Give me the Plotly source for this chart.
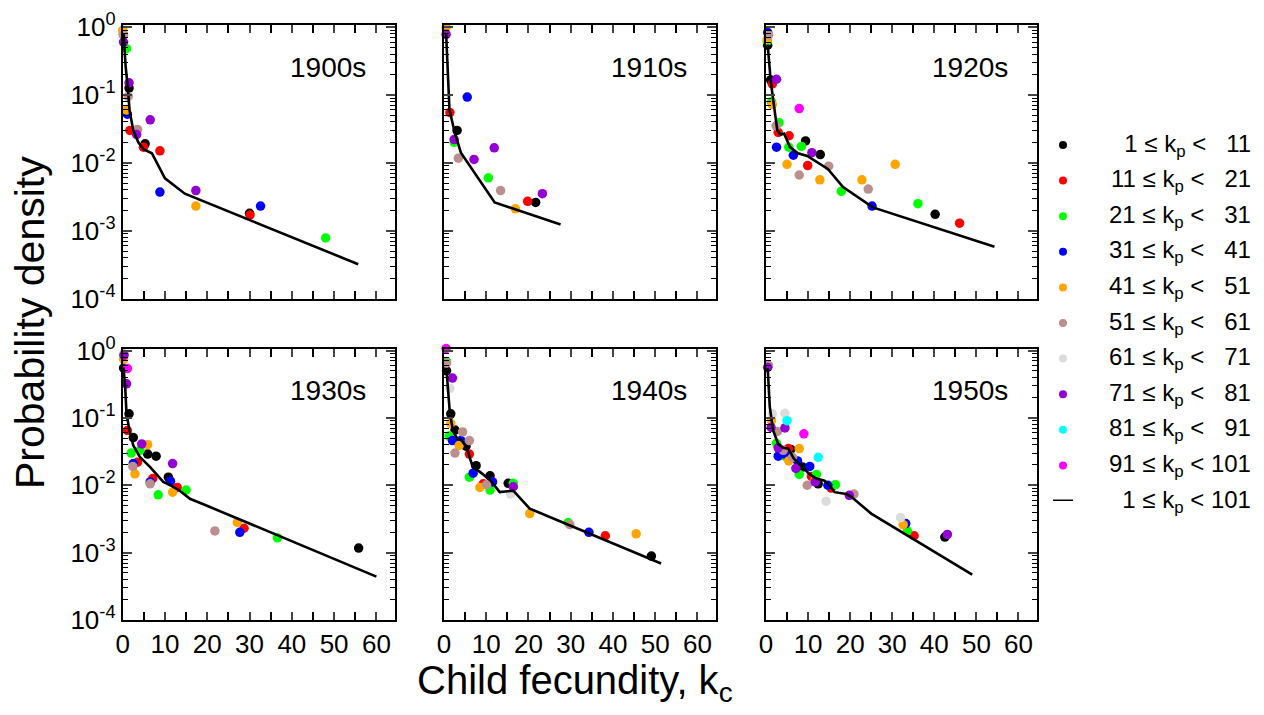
import plotly.graph_objects as go

# k_p group colours (xmgrace palette) and legend ranges
group_colors = ['#000000', '#ff0000', '#00ff00', '#0000ff', '#ffa500',
                '#bc8f8f', '#dcdcdc', '#9400d3', '#00ffff', '#ff00ff']
legend_lo = [1, 11, 21, 31, 41, 51, 61, 71, 81, 91]
legend_hi = [11, 21, 31, 41, 51, 61, 71, 81, 91, 101]

decades = ['1900s', '1910s', '1920s', '1930s', '1940s', '1950s']

# --- 1900s ---
pts_1900s_x = [0.0, 0.15, 0.2, 0.2, 0.9, 1.5, 1.5, 1.3, 0.9, 1.1, 6.5, 3.5, 1.7, 3.3, 5.3, 4.9,
               8.8, 8.8, 17.3, 17.3, 30.0, 30.1, 32.6, 48.0]
pts_1900s_y = [0.89, 0.78, 0.76, 0.60, 0.48, 0.151, 0.126, 0.095, 0.060, 0.052, 0.043, 0.031,
               0.030, 0.026, 0.019, 0.017, 0.015, 0.0037, 0.0039, 0.0023, 0.0018, 0.0017,
               0.0023, 0.00078]
pts_1900s_g = [4, 1, 5, 7, 2, 7, 0, 5, 4, 3, 7, 5, 1, 7, 0, 1, 1, 3, 7, 4, 0, 1, 3, 2]
line_1900s_x = [0.2, 0.7, 1.3, 1.6, 2.5, 3.7, 4.9, 6.9, 10, 14.7, 55.7]
line_1900s_y = [0.81, 0.26, 0.112, 0.060, 0.030, 0.020, 0.0158, 0.0138, 0.0059, 0.0035, 0.00032]

# --- 1910s ---
pts_1910s_x = [0.5, 0.5, 5.5, 1.4, 3.1, 2.4, 2.4, 11.9, 3.4, 7.1, 10.5, 13.4, 16.9, 19.8, 21.7, 23.3]
pts_1910s_y = [0.98, 0.78, 0.093, 0.055, 0.030, 0.022, 0.020, 0.0166, 0.0117, 0.0112, 0.0060,
               0.0039, 0.0021, 0.0027, 0.0026, 0.0035]
pts_1910s_g = [4, 7, 3, 1, 0, 7, 2, 7, 5, 7, 2, 5, 4, 1, 0, 7]
line_1910s_x = [0.5, 1.3, 2.6, 4, 12, 27.6]
line_1910s_y = [0.81, 0.060, 0.027, 0.0141, 0.0026, 0.00123]

# --- 1920s ---
pts_1920s_x = [0.4, 0.6, 0.3, 0.3, 0.4, 2.5, 1.1, 1.5, 1.3, 1.5, 7.9, 3.1, 2.4, 2.9, 5.5, 9.4,
               2.5, 5.4, 8.4, 6.5, 10.9, 12.9, 5.0, 9.9, 14.9, 7.9, 12.8, 22.8, 30.7, 17.9,
               24.3, 25.2, 36.1, 40.2, 46.0]
pts_1920s_y = [0.83, 0.76, 0.66, 0.62, 0.54, 0.170, 0.166, 0.145, 0.079, 0.072, 0.063, 0.039,
               0.035, 0.028, 0.025, 0.021, 0.017, 0.017, 0.0174, 0.0129, 0.0141, 0.0132,
               0.0095, 0.0091, 0.0089, 0.0066, 0.0056, 0.0056, 0.0095, 0.0038, 0.0041,
               0.0023, 0.0025, 0.00174, 0.00129]
pts_1920s_g = [3, 5, 4, 2, 0, 7, 0, 1, 2, 4, 9, 2, 5, 1, 1, 0, 3, 2, 2, 3, 7, 0, 4, 1, 5, 5,
               4, 4, 4, 2, 5, 3, 2, 0, 1]
line_1920s_x = [0.4, 1.1, 1.7, 2.7, 3.5, 4.3, 5.7, 7.6, 9.8, 14.7, 18.3, 25.4, 54.3]
line_1920s_y = [0.55, 0.166, 0.085, 0.030, 0.026, 0.027, 0.017, 0.0138, 0.0126, 0.0081,
                0.0044, 0.0022, 0.00058]

# --- 1930s ---
pts_1930s_x = [0.3, 0.3, 0.2, 1.1, 0.2, 0.9, 1.5, 1.1, 2.5, 4.5, 5.9, 4.1, 2.0, 5.9, 7.9, 3.5,
               2.5, 2.4, 11.8, 2.9, 10.8, 7.1, 6.5, 6.5, 11.3, 12.9, 15.0, 11.8, 8.4, 27.1,
               28.7, 27.7, 21.8, 36.6, 55.8]
pts_1930s_y = [0.89, 0.85, 0.74, 0.54, 0.55, 0.32, 0.115, 0.065, 0.051, 0.041, 0.040, 0.033,
               0.030, 0.029, 0.027, 0.022, 0.021, 0.019, 0.021, 0.0148, 0.0132, 0.0126,
               0.0112, 0.0105, 0.0115, 0.0093, 0.0085, 0.0079, 0.0072, 0.0028, 0.0023,
               0.0020, 0.0021, 0.00166, 0.00117]
pts_1930s_g = [5, 7, 4, 9, 0, 7, 0, 1, 0, 7, 4, 2, 2, 0, 0, 1, 3, 5, 7, 4, 0, 1, 3, 5, 3, 1,
               2, 4, 2, 4, 1, 3, 5, 2, 0]
line_1930s_x = [0.2, 0.6, 0.9, 1.6, 2.5, 4.1, 6.5, 9.6, 11.3, 13.5, 15.9, 19.8, 60]
line_1930s_y = [0.56, 0.28, 0.115, 0.065, 0.039, 0.026, 0.0186, 0.0112, 0.0100, 0.0083,
                0.0063, 0.0050, 0.00044]

# --- 1940s ---
pts_1940s_x = [0.5, 0.6, 0.6, 0.6, 2.0, 1.4, 1.6, 1.6, 2.6, 4.4, 1.2, 2.0, 6.0, 4.0, 3.6, 5.2,
               2.6, 6.0, 7.6, 6.9, 6.0, 10.9, 11.5, 9.3, 10.1, 8.5, 10.9, 15.2, 16.4, 16.4,
               15.8, 20.3, 29.4, 29.8, 34.3, 38.2, 45.5, 49.1]
pts_1940s_y = [1.07, 0.65, 0.69, 0.50, 0.39, 0.275, 0.115, 0.083, 0.066, 0.062, 0.054, 0.046,
               0.046, 0.046, 0.039, 0.038, 0.030, 0.029, 0.0195, 0.0151, 0.0132, 0.0138,
               0.0112, 0.0105, 0.0102, 0.0093, 0.0085, 0.0107, 0.0107, 0.0095, 0.0074,
               0.0038, 0.0028, 0.0026, 0.0020, 0.00178, 0.0019, 0.00089]
pts_1940s_g = [9, 5, 2, 0, 7, 6, 0, 4, 0, 5, 2, 3, 5, 3, 4, 0, 5, 1, 0, 3, 2, 0, 3, 1, 5, 4,
               2, 0, 2, 7, 6, 4, 2, 5, 3, 1, 4, 0]
line_1940s_x = [0.6, 1.4, 2.2, 3.1, 4.2, 5.4, 6.8, 8.5, 10.9, 13.2, 16.4, 20.3, 51.4]
line_1940s_y = [0.51, 0.115, 0.062, 0.050, 0.046, 0.036, 0.0186, 0.0158, 0.0120, 0.0079,
                0.0083, 0.0045, 0.00069]

# --- 1950s ---
pts_1950s_x = [0.4, 0.6, 1.5, 4.5, 5.0, 1.3, 1.2, 2.7, 4.5, 9.0, 2.5, 2.9, 7.9, 5.9, 5.3, 4.1,
               2.9, 4.5, 12.4, 4.5, 6.3, 5.4, 7.5, 7.1, 8.7, 10.4, 7.9, 10.8, 12.0, 11.6,
               11.7, 12.4, 9.8, 14.7, 15.5, 16.5, 14.3, 19.8, 20.9, 32.0, 33.2, 32.6, 33.6,
               35.2, 42.5, 43.1]
pts_1950s_y = [0.56, 0.60, 0.115, 0.117, 0.091, 0.091, 0.072, 0.063, 0.071, 0.058, 0.042,
               0.036, 0.035, 0.034, 0.035, 0.033, 0.027, 0.029, 0.026, 0.027, 0.026, 0.023,
               0.023, 0.0178, 0.0186, 0.019, 0.0145, 0.0135, 0.0145, 0.0117, 0.0112, 0.0105,
               0.0100, 0.0100, 0.0091, 0.0102, 0.0058, 0.0071, 0.0074, 0.0033, 0.0027,
               0.0026, 0.0021, 0.00178, 0.0017, 0.00186]
pts_1950s_g = [7, 5, 6, 6, 8, 4, 7, 5, 7, 9, 2, 7, 4, 0, 1, 5, 3, 3, 8, 2, 5, 4, 3, 7, 0, 3,
               2, 1, 2, 4, 7, 0, 5, 3, 1, 2, 6, 7, 5, 6, 3, 4, 2, 1, 0, 7]
line_1950s_x = [0.4, 0.9, 1.7, 2.9, 4.1, 5.3, 6.6, 8.8, 10.4, 12.0, 13.9, 15.1, 16.3, 19.1,
                20.2, 25, 49]
line_1950s_y = [0.55, 0.145, 0.065, 0.041, 0.036, 0.035, 0.025, 0.018, 0.0145, 0.0126,
                0.0117, 0.0100, 0.0079, 0.0074, 0.0068, 0.0038, 0.00047]

panels = [
    (pts_1900s_x, pts_1900s_y, pts_1900s_g, line_1900s_x, line_1900s_y),
    (pts_1910s_x, pts_1910s_y, pts_1910s_g, line_1910s_x, line_1910s_y),
    (pts_1920s_x, pts_1920s_y, pts_1920s_g, line_1920s_x, line_1920s_y),
    (pts_1930s_x, pts_1930s_y, pts_1930s_g, line_1930s_x, line_1930s_y),
    (pts_1940s_x, pts_1940s_y, pts_1940s_g, line_1940s_x, line_1940s_y),
    (pts_1950s_x, pts_1950s_y, pts_1950s_g, line_1950s_x, line_1950s_y),
]

y_major = [1, 0.1, 0.01, 0.001, 0.0001]
y_labels = ['10<sup>0</sup>', '10<sup>-1</sup>', '10<sup>-2</sup>', '10<sup>-3</sup>', '10<sup>-4</sup>']
y_minor = [k * 10.0 ** e for e in range(-4, 0) for k in range(2, 10)]
x_major = [0, 10, 20, 30, 40, 50, 60]
x_minor = [5, 15, 25, 35, 45, 55]

W, H = 1264, 715
OFF = 8  # page body margin: the figure is drawn 8px in from the window corner
FONT = 'Liberation Sans, Arial, Helvetica, sans-serif'


def fx(p):
    return (p - OFF) / W


def fy(p):
    return 1 - (p - OFF) / H


# panel pixel boxes in window coords: (left, right) and (top, bottom)
cols = [(122.7, 395), (444, 716), (766, 1037)]
rows = [(25, 298.5), (348.5, 620)]

fig = go.Figure()
layout = {}

for i, (px, py, pg, lx, ly) in enumerate(panels):
    n = i + 1
    xa = 'x' if n == 1 else 'x%d' % n
    ya = 'y' if n == 1 else 'y%d' % n
    r, c = divmod(i, 3)
    for g, col in enumerate(group_colors):
        xs = [x for x, gg in zip(px, pg) if gg == g]
        ys = [y for y, gg in zip(py, pg) if gg == g]
        if not xs:
            continue
        fig.add_trace(go.Scatter(x=xs, y=ys, mode='markers', xaxis=xa, yaxis=ya,
                                 marker=dict(color=col, size=9.5, line=dict(width=0)),
                                 cliponaxis=False, showlegend=False))
    fig.add_trace(go.Scatter(x=lx, y=ly, mode='lines', xaxis=xa, yaxis=ya,
                             line=dict(color='black', width=2.6),
                             cliponaxis=False, showlegend=False))

    l, rt = cols[c]
    t, b = rows[r]
    layout['xaxis' if n == 1 else 'xaxis%d' % n] = dict(
        domain=[fx(l), fx(rt)], anchor=ya, range=[0, 64.4], automargin=False,
        tickmode='array', tickvals=x_major,
        showticklabels=(r == 1), ticks='inside', ticklen=8, tickwidth=1.5,
        minor=dict(tickmode='array', tickvals=x_minor, ticks='inside', ticklen=8,
                   tickwidth=1.5, tickcolor='black', showgrid=False),
        showline=True, linewidth=2, linecolor='black', mirror='ticks',
        showgrid=False, zeroline=False,
        tickfont=dict(size=26, color='black', family=FONT))
    layout['yaxis' if n == 1 else 'yaxis%d' % n] = dict(
        domain=[fy(b), fy(t)], anchor=xa, type='log', range=[-4, 0.03],
        automargin=False,
        tickmode='array', tickvals=y_major, ticktext=y_labels,
        showticklabels=(c == 0), ticks='inside', ticklen=9, tickwidth=1.5,
        minor=dict(tickmode='array', tickvals=y_minor, ticks='inside', ticklen=5,
                   tickwidth=1.2, tickcolor='black', showgrid=False),
        showline=True, linewidth=2, linecolor='black', mirror='ticks',
        showgrid=False, zeroline=False,
        tickfont=dict(size=26, color='black', family=FONT))

# legend drawn on a hidden axis pair
fig.add_trace(go.Scatter(x=[23] * len(group_colors), y=list(range(len(group_colors))),
                         mode='markers', xaxis='x7', yaxis='y7',
                         marker=dict(color=group_colors, size=8),
                         cliponaxis=False, showlegend=False))
fig.add_trace(go.Scatter(x=[13, 33], y=[10, 10], mode='lines', xaxis='x7', yaxis='y7',
                         line=dict(color='black', width=3),
                         cliponaxis=False, showlegend=False))
layout['xaxis7'] = dict(domain=[fx(1040), fx(1264)], range=[0, 224], visible=False,
                        anchor='y7', automargin=False)
layout['yaxis7'] = dict(domain=[fy(501), fy(145)], range=[10, 0], visible=False,
                        anchor='x7', automargin=False)


def pad(v, width):
    s = str(v)
    return '\u00a0\u00a0' * (width - len(s)) + s


annotations = []
for i, (lo, hi) in enumerate(zip(legend_lo + [1], legend_hi + [101])):
    annotations.append(dict(
        x=213, y=i, xref='x7', yref='y7', xanchor='right', yanchor='middle', showarrow=False,
        text='%s \u2264 k<sub>p</sub> < %s' % (pad(lo, 2), pad(hi, 3)),
        font=dict(size=24, color='black', family=FONT)))

for i, name in enumerate(decades):
    n = i + 1
    annotations.append(dict(
        x=1 - 67 / 272, y=1 - 42 / 273.5,
        xref=('x' if n == 1 else 'x%d' % n) + ' domain',
        yref=('y' if n == 1 else 'y%d' % n) + ' domain',
        xanchor='center', yanchor='middle', showarrow=False, text=name,
        font=dict(size=28, color='black', family=FONT)))

annotations.append(dict(x=fx(30), y=fy(323), xref='paper', yref='paper', textangle=-90,
                        xanchor='center', yanchor='middle', showarrow=False,
                        text='Probability density',
                        font=dict(size=41, color='black', family=FONT)))
annotations.append(dict(x=fx(575), y=fy(683), xref='paper', yref='paper',
                        xanchor='center', yanchor='middle', showarrow=False,
                        text='Child fecundity, k<sub>c</sub>',
                        font=dict(size=40, color='black', family=FONT)))

fig.update_layout(width=W, height=H,
                  margin=dict(l=0, r=0, t=0, b=0, pad=0, autoexpand=False),
                  paper_bgcolor='white', plot_bgcolor='white', showlegend=False,
                  annotations=annotations, font=dict(family=FONT, color='black'),
                  **layout)

fig.write_html("out.html")
